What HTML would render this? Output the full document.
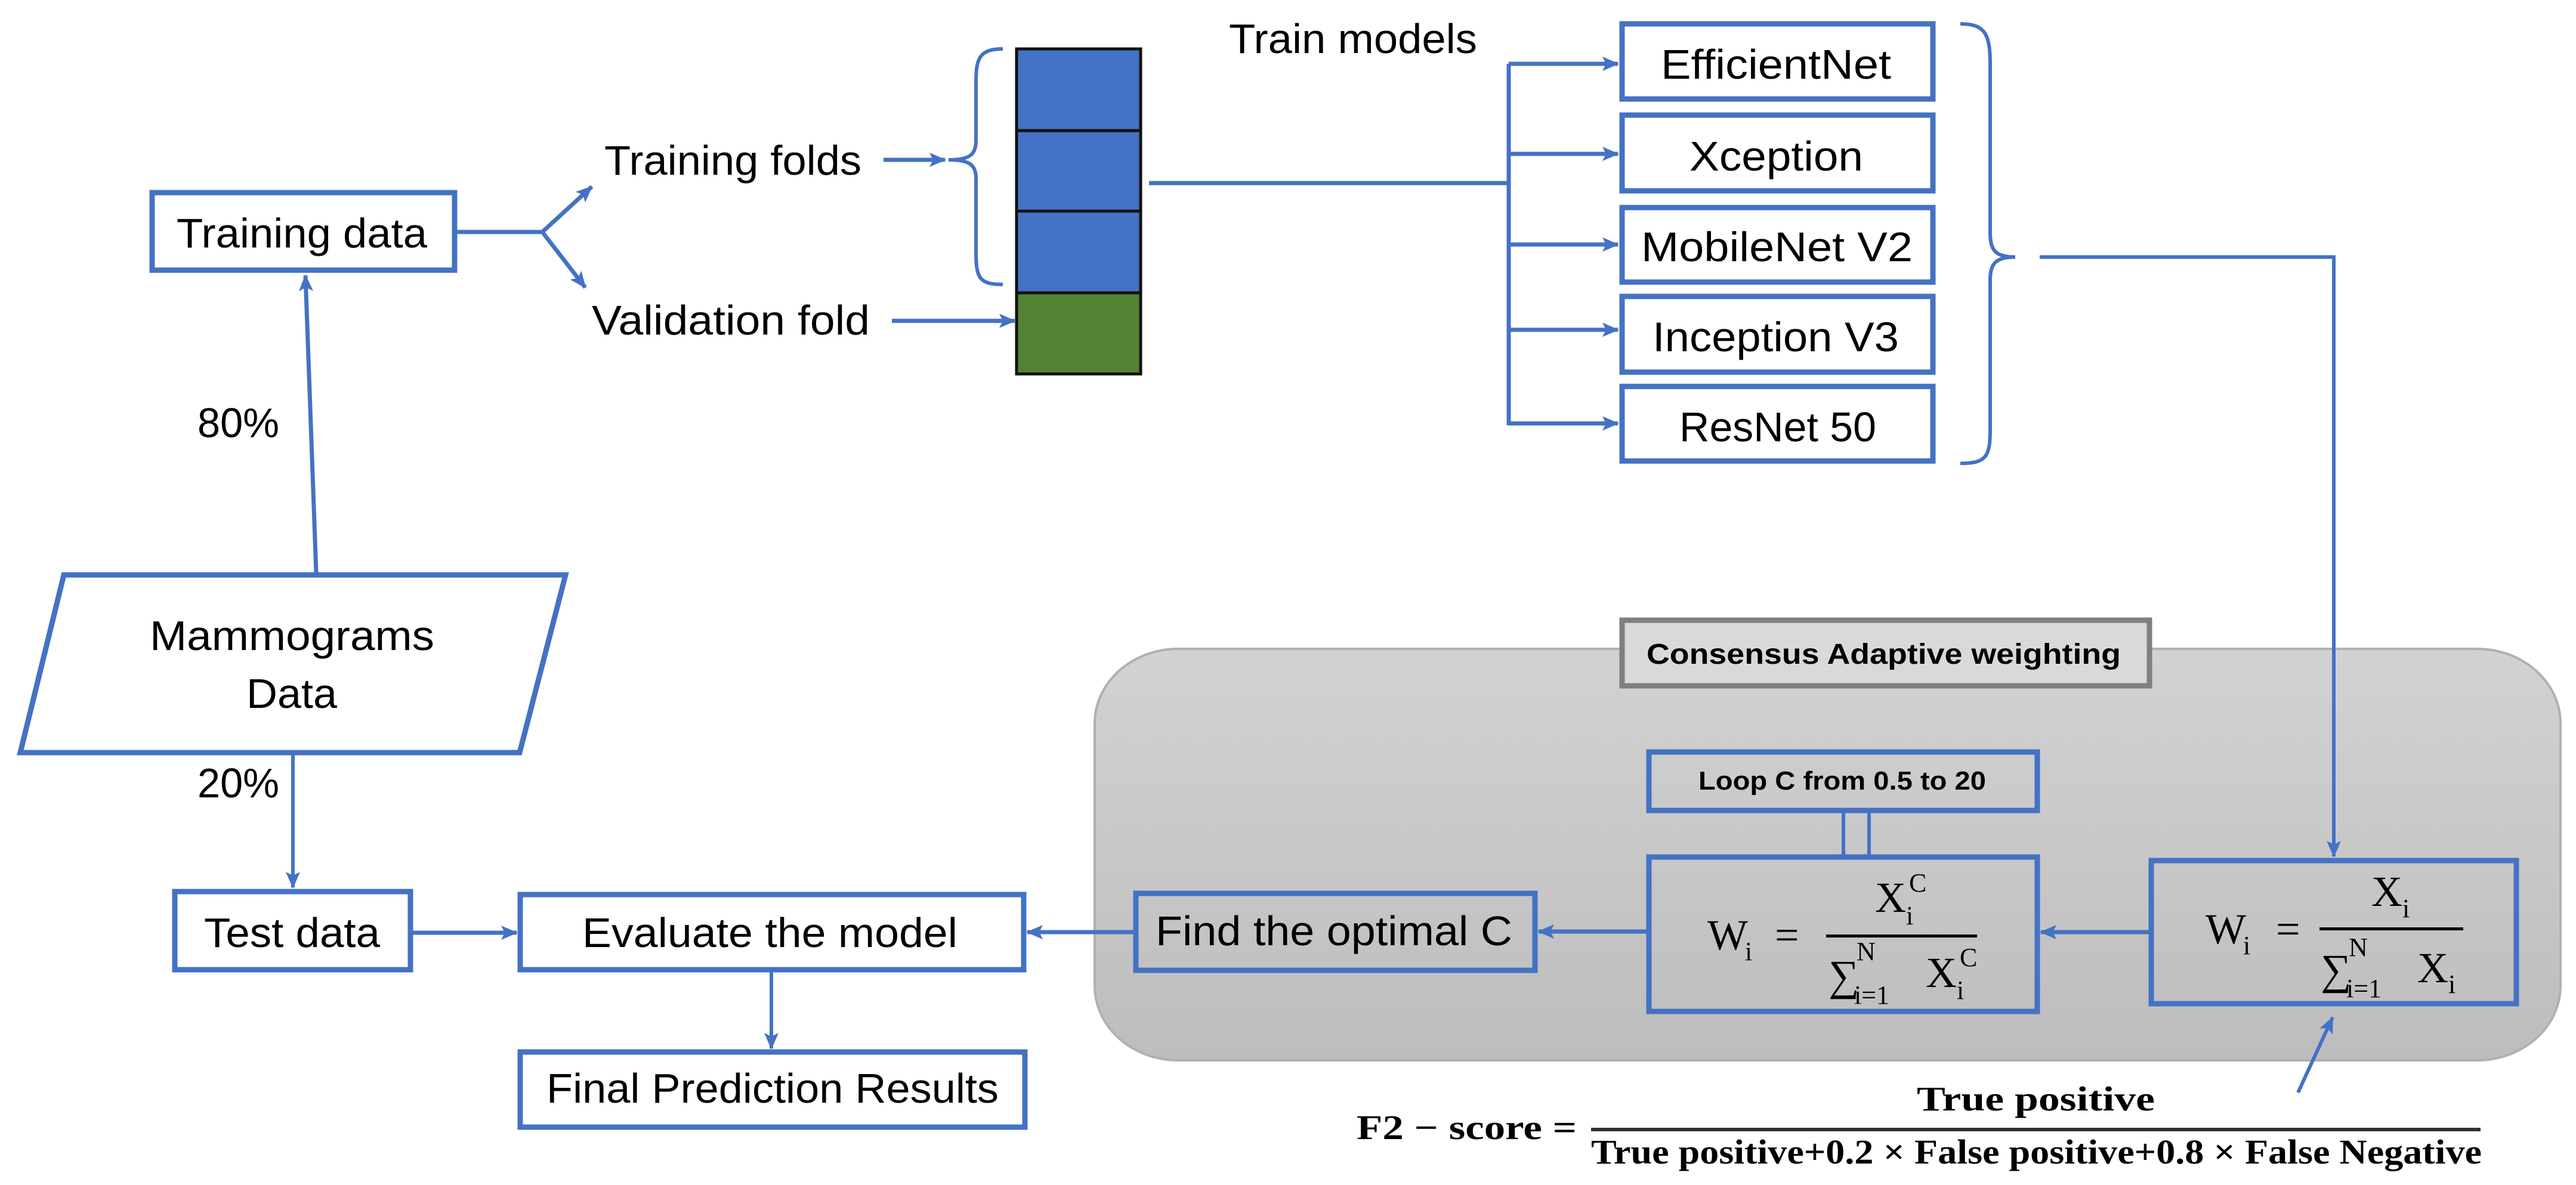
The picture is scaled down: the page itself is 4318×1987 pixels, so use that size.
<!DOCTYPE html>
<html><head><meta charset="utf-8"><style>
html,body{margin:0;padding:0;background:#fff;}
svg{display:block;}
text{font-family:"Liberation Sans",sans-serif;fill:#000;}
.s{font-family:"Liberation Serif",serif;}
</style></head><body>
<svg width="4318" height="1987" viewBox="0 0 4318 1987" xmlns="http://www.w3.org/2000/svg">
<defs>
<linearGradient id="g" x1="0" y1="0" x2="0" y2="1">
<stop offset="0" stop-color="#d2d2d2"/><stop offset="1" stop-color="#bdbdbd"/>
</linearGradient>
<marker id="a" markerUnits="userSpaceOnUse" markerWidth="30" markerHeight="30" refX="26" refY="15" orient="auto">
<path d="M0,3 L28,15 L0,27 L6,15 Z" fill="#4472C4"/>
</marker>
</defs>
<g fill="none" stroke="#4472C4" stroke-width="7">
<!-- gray panel -->
<rect x="1835" y="1088" width="2457" height="690" rx="140" ry="125" fill="url(#g)" stroke="#b0b0b0" stroke-width="4"/>
</g>
<!-- consensus title -->
<rect x="2719" y="1040" width="884" height="110" fill="#d9d9d9" stroke="#7f7f7f" stroke-width="9"/>
<text x="2760" y="1113" font-size="48" font-weight="bold" textLength="795" lengthAdjust="spacingAndGlyphs">Consensus Adaptive weighting</text>

<g fill="none" stroke="#4472C4" stroke-width="9">
<rect x="255" y="323" width="507" height="130" fill="#fff"/>
<rect x="293" y="1495" width="395" height="131" fill="#fff"/>
<rect x="872" y="1500" width="844" height="126" fill="#fff"/>
<rect x="872" y="1764" width="846" height="126" fill="#fff"/>
<rect x="2719" y="40" width="521" height="126" fill="#fff"/>
<rect x="2719" y="193" width="521" height="127" fill="#fff"/>
<rect x="2719" y="348" width="521" height="125" fill="#fff"/>
<rect x="2719" y="497" width="521" height="127" fill="#fff"/>
<rect x="2719" y="648" width="521" height="125" fill="#fff"/>
<polygon points="107,964 948,964 871,1262 34,1262" fill="#fff"/>
<rect x="1904" y="1498" width="669" height="129"/>
<rect x="2764" y="1261" width="651" height="98"/>
<rect x="2764" y="1437" width="651" height="259"/>
<rect x="3606" y="1443" width="612" height="240"/>
</g>
<!-- stack -->
<g stroke="#111" stroke-width="5">
<rect x="1704" y="82" width="208" height="137" fill="#4472C4"/>
<rect x="1704" y="219" width="208" height="135" fill="#4472C4"/>
<rect x="1704" y="354" width="208" height="137" fill="#4472C4"/>
<rect x="1704" y="491" width="208" height="136" fill="#548235"/>
</g>
<g fill="none" stroke="#4472C4" stroke-width="7">
<!-- training data fork -->
<path d="M766,389 L909,389"/>
<path d="M909,389 L992,313" marker-end="url(#a)"/>
<path d="M909,389 L981,482" marker-end="url(#a)"/>
<path d="M530,960 L512,462" marker-end="url(#a)"/>
<path d="M1481,268 L1584,268" marker-end="url(#a)"/>
<path d="M1495,538 L1701,538" marker-end="url(#a)"/>
<path d="M1681,82 C1640,82 1636,100 1636,140 L1636,235 C1636,260 1625,268 1590,268 C1625,268 1636,276 1636,300 L1636,420 C1636,465 1640,477 1681,477" stroke-width="6"/>
<path d="M1926,307 L2529,307 M2529,107 L2529,713"/>
<path d="M2529,107 L2712,107" marker-end="url(#a)"/>
<path d="M2529,258 L2712,258" marker-end="url(#a)"/>
<path d="M2529,410 L2712,410" marker-end="url(#a)"/>
<path d="M2529,553 L2712,553" marker-end="url(#a)"/>
<path d="M2529,710 L2712,710" marker-end="url(#a)"/>
<path d="M3286,40 C3330,40 3336,60 3336,110 L3336,390 C3336,420 3345,431 3378,431 C3345,431 3336,442 3336,470 L3336,720 C3336,765 3330,777 3286,777" stroke-width="6"/>
<path d="M3419,431 L3912,431 L3912,1436" marker-end="url(#a)" stroke-width="6"/>
<path d="M491,1262 L491,1488" marker-end="url(#a)" stroke-width="6"/>
<path d="M692,1564 L866,1564" marker-end="url(#a)"/>
<path d="M1293,1630 L1293,1758" marker-end="url(#a)" stroke-width="6"/>
<path d="M1900,1563 L1722,1563" marker-end="url(#a)"/>
<path d="M2760,1562 L2579,1562" marker-end="url(#a)"/>
<path d="M3602,1563 L3421,1563" marker-end="url(#a)"/>
<path d="M3090,1363 L3090,1433 M3133,1363 L3133,1433" stroke-width="6"/>
<path d="M3852,1832 L3910,1706" marker-end="url(#a)" stroke-width="6"/>
</g>
<!-- labels -->
<g font-size="70">
<text x="296" y="415" textLength="420" lengthAdjust="spacingAndGlyphs">Training data</text>
<text x="1013" y="293" textLength="431" lengthAdjust="spacingAndGlyphs">Training folds</text>
<text x="992" y="561" textLength="466" lengthAdjust="spacingAndGlyphs">Validation fold</text>
<text x="2060" y="89" textLength="416" lengthAdjust="spacingAndGlyphs">Train models</text>
<text x="331" y="733" textLength="137" lengthAdjust="spacingAndGlyphs">80%</text>
<text x="331" y="1337" textLength="137" lengthAdjust="spacingAndGlyphs">20%</text>
<text x="251" y="1090" textLength="477" lengthAdjust="spacingAndGlyphs">Mammograms</text>
<text x="413" y="1187" textLength="152" lengthAdjust="spacingAndGlyphs">Data</text>
<text x="342" y="1588" textLength="295" lengthAdjust="spacingAndGlyphs">Test data</text>
<text x="976" y="1588" textLength="629" lengthAdjust="spacingAndGlyphs">Evaluate the model</text>
<text x="916" y="1849" textLength="758" lengthAdjust="spacingAndGlyphs">Final Prediction Results</text>
<text x="1937" y="1585" textLength="598" lengthAdjust="spacingAndGlyphs">Find the optimal C</text>
<text x="2784" y="132" textLength="386" lengthAdjust="spacingAndGlyphs">EfficientNet</text>
<text x="2832" y="286" textLength="291" lengthAdjust="spacingAndGlyphs">Xception</text>
<text x="2751" y="438" textLength="455" lengthAdjust="spacingAndGlyphs">MobileNet V2</text>
<text x="2770" y="589" textLength="413" lengthAdjust="spacingAndGlyphs">Inception V3</text>
<text x="2815" y="740" textLength="330" lengthAdjust="spacingAndGlyphs">ResNet 50</text>
</g>
<text x="2847" y="1324" font-size="44" font-weight="bold" textLength="482" lengthAdjust="spacingAndGlyphs">Loop C from 0.5 to 20</text>
<!-- formulas -->
<g class="s">
<text class="s" x="2862" y="1592" font-size="72">W</text><text class="s" x="2925" y="1610" font-size="44">i</text>
<text class="s" x="2975" y="1592" font-size="72">=</text>
<text class="s" x="3143" y="1529" font-size="72">X</text><text class="s" x="3195" y="1550" font-size="44">i</text><text class="s" x="3200" y="1495" font-size="44">C</text>
<rect x="3061" y="1567" width="253" height="5" fill="#000"/>
<text class="s" x="3065" y="1660" font-size="72">∑</text><text class="s" x="3112" y="1610" font-size="44">N</text><text class="s" x="3108" y="1683" font-size="44">i=1</text>
<text class="s" x="3228" y="1655" font-size="72">X</text><text class="s" x="3280" y="1675" font-size="44">i</text><text class="s" x="3285" y="1620" font-size="44">C</text>

<text class="s" x="3697" y="1582" font-size="72">W</text><text class="s" x="3760" y="1600" font-size="44">i</text>
<text class="s" x="3815" y="1582" font-size="72">=</text>
<text class="s" x="3975" y="1519" font-size="72">X</text><text class="s" x="4027" y="1538" font-size="44">i</text>
<rect x="3888" y="1555" width="241" height="5" fill="#000"/>
<text class="s" x="3890" y="1650" font-size="72">∑</text><text class="s" x="3937" y="1603" font-size="44">N</text><text class="s" x="3933" y="1672" font-size="44">i=1</text>
<text class="s" x="4052" y="1647" font-size="72">X</text><text class="s" x="4104" y="1665" font-size="44">i</text>
</g>
<g font-weight="bold">
<text class="s" x="2274" y="1910" font-size="58" textLength="369" lengthAdjust="spacingAndGlyphs">F2 − score =</text>
<text class="s" x="3213" y="1862" font-size="58" textLength="399" lengthAdjust="spacingAndGlyphs">True positive</text>
<rect x="2667" y="1891" width="1491" height="6" fill="#333"/>
<text class="s" x="2667" y="1951" font-size="58" textLength="1493" lengthAdjust="spacingAndGlyphs">True positive+0.2 × False positive+0.8 × False Negative</text>
</g>
</svg>
</body></html>
